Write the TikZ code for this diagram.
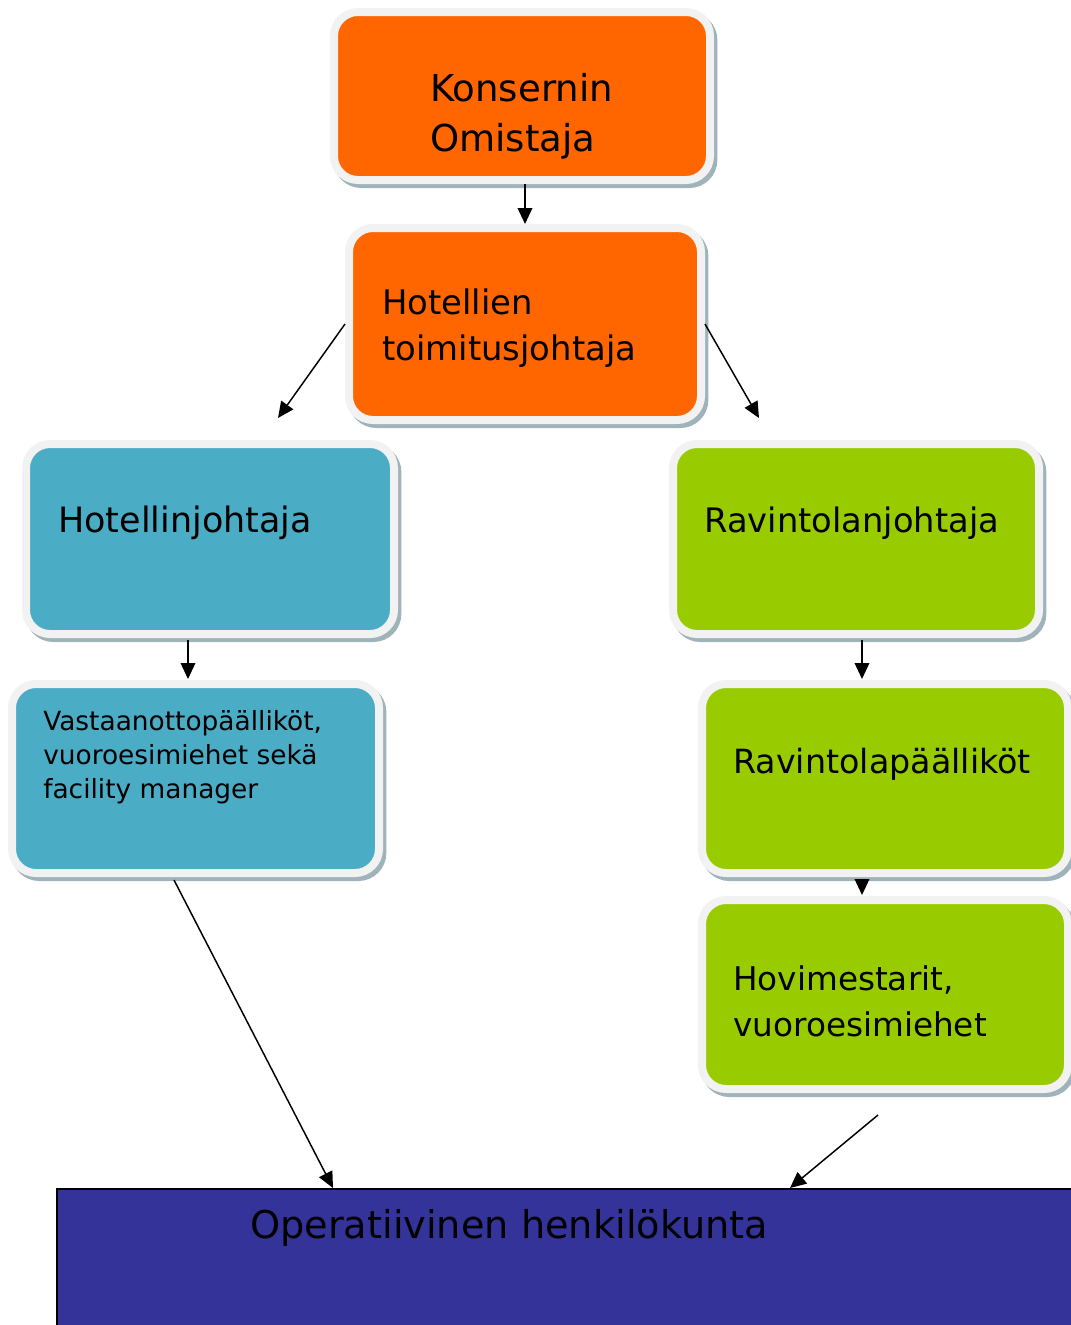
\documentclass[tikz,border=0pt]{standalone}
\usepackage{fontspec}
\setmainfont{DejaVu Sans}
\usetikzlibrary{shapes,arrows,positioning,calc,shadows,arrows.meta}
\definecolor{ownorange}{HTML}{FF6600}
\definecolor{hotelblue}{HTML}{4BACC6}
\definecolor{restgreen}{HTML}{99CC00}
\definecolor{staffblue}{HTML}{333399}
\definecolor{boxrim}{HTML}{F2F2F2}
\definecolor{boxshadow}{HTML}{9FB3BA}

\begin{document}
\begin{tikzpicture}[x=0.75pt,y=-0.75pt,
    box/.style={draw=boxrim, line width=6pt, rounded corners=18pt, inner sep=0pt,
        drop shadow={shadow xshift=2.5pt, shadow yshift=-3pt, fill=none,
            draw=boxshadow, line width=6pt, opacity=1}},
    txt/.style={inner sep=0pt, anchor=west, align=left},
    arr/.style={-{Triangle[length=12pt,width=11pt]}, line width=1.1pt}]
    \useasboundingbox (0,0) rectangle (1071,1325);

    % Top of the chain
    \node[box, fill=ownorange, minimum width=282pt, minimum height=126pt] (owner) at (522,96) {};
    \node[txt, font=\fontsize{27.8}{37.5}\selectfont] (ownertxt) at (430,116) {Konsernin\\Omistaja};
    \node[box, fill=ownorange, minimum width=264pt, minimum height=144pt] (ceo) at (525,324) {};
    \node[txt, font=\fontsize{25.4}{34}\selectfont] (ceotxt) at (382,328) {Hotellien\\toimitusjohtaja};

    % Hotel side
    \node[box, fill=hotelblue, minimum width=276pt, minimum height=142.5pt] (hotel) at (210,539) {};
    \node[txt, font=\fontsize{26.2}{34}\selectfont] (hoteltxt) at (58,523) {Hotellinjohtaja};
    \node[box, fill=hotelblue, minimum width=275.25pt, minimum height=141.75pt] (desk) at (195.5,778.5) {};
    \node[txt, font=\fontsize{19.8}{25.5}\selectfont] (desktxt) at (43,757) {Vastaanottopäälliköt,\\vuoroesimiehet sekä\\facility manager};

    % Restaurant side
    \node[box, fill=restgreen, minimum width=274.5pt, minimum height=142.5pt] (rest) at (856,539) {};
    \node[txt, font=\fontsize{25.3}{34}\selectfont] (resttxt) at (704,523) {Ravintolanjohtaja};
    \node[box, fill=restgreen, minimum width=274.5pt, minimum height=141.75pt] (restmgr) at (885,778.5) {};
    \node[txt, font=\fontsize{25}{34}\selectfont] (restmgrtxt) at (733,764) {Ravintolapäälliköt};
    \node[box, fill=restgreen, minimum width=274.5pt, minimum height=141.75pt] (maitre) at (885,994.5) {};
    \node[txt, font=\fontsize{24.5}{34.5}\selectfont] (maitretxt) at (733,1001) {Hovimestarit,\\vuoroesimiehet};

    % Staff
    \node[draw=black, line width=1.2pt, fill=staffblue, anchor=north west, inner sep=0pt,
        minimum width=800pt, minimum height=120pt] (staff) at (56,1188) {};
    \node[txt, font=\fontsize{28.7}{36}\selectfont] (stafftxt) at (250,1228) {Operatiivinen henkilökunta};

    % Connections
    \coordinate (hotelin) at (278,418);
    \coordinate (restin) at (759,418);
    \coordinate (maitreout) at (878,1115);
    \draw[arr] (owner.south -| ceo.north) -- (ceo.north);
    \draw[arr] (ceo.west) -- (hotelin);
    \draw[arr] (ceo.east) -- (restin);
    \draw[arr] ($(hotel.south)+(-22,2)$) -- ($(desk.north)+(-7.5,-1)$);
    \draw[arr] ($(rest.south)+(6,2)$) -- ($(restmgr.north)+(-23,-1)$);
    \draw[arr] ($(restmgr.south)+(-23,3)$) -- ($(maitre.north)+(-23,-1)$);
    \draw[arr] ($(desk.south)+(-21.5,3)$) -- ($(staff.north west)+(277,0)$);
    \draw[arr] (maitreout) -- ($(staff.north west)+(734,0)$);
\end{tikzpicture}
\end{document}
